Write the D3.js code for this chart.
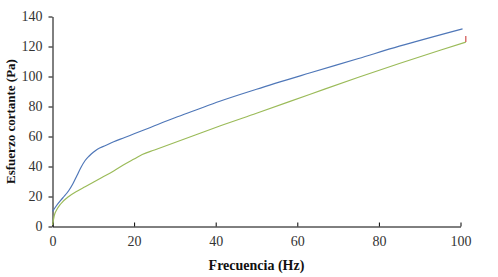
<!DOCTYPE html>
<html>
<head>
<meta charset="utf-8">
<script src="https://cdn.jsdelivr.net/npm/d3@7"></script>
<style>
  body { margin: 0; background: #fff; }
  #chart { width: 498px; height: 277px; }
</style>
</head>
<body>
<div id="chart"></div>
<script>
// Data
var blueX = [0, 1, 2.5, 4, 5, 6, 7, 8, 9, 10, 11, 13, 15, 17.7, 20, 23.2, 30, 35, 41, 50, 63, 75, 85, 100.5];
var blueY = [10, 14, 19, 24, 28.5, 34, 39.5, 44, 47, 49.5, 51.5, 54, 56.5, 59.3, 61.8, 65.2, 72.5, 77.5, 83.5, 91.5, 102.3, 112, 120.2, 131.8];

var greenX = [0, 0.5, 1, 2, 4, 6, 8, 10, 12, 15, 18, 20, 22, 25, 30, 35, 41, 50, 63, 75, 85, 95, 101.3];
var greenY = [1, 8, 11, 15, 20, 23.5, 26.5, 29.5, 32.5, 37, 42, 45, 48, 51, 56, 61, 67, 75.5, 88, 99.5, 108.7, 117.5, 122.9];

var redX = [101.3, 101.3];
var redY = [123, 127];

var xTicks = [0, 20, 40, 60, 80, 100];
var yTicks = [0, 20, 40, 60, 80, 100, 120, 140];

var width = 498, height = 277;
var serif = "'Liberation Serif', 'DejaVu Serif', serif";

var svg = d3.select("#chart").append("svg")
    .attr("width", width)
    .attr("height", height);

// Scales
var x = d3.scaleLinear().domain([0, 100]).range([52.5, 460.5]);
var y = d3.scaleLinear().domain([0, 140]).range([226.5, 16.5]);

function styleAxis(g) {
    g.attr("font-family", serif).attr("font-size", 14);
    g.selectAll("line, path").attr("stroke", "#000");
    g.selectAll("text").attr("fill", "#333");
}

// Axes
svg.append("g")
    .attr("transform", "translate(0," + y(0) + ")")
    .call(d3.axisBottom(x).tickValues(xTicks).tickSizeInner(-4).tickSizeOuter(0).tickPadding(10))
    .call(styleAxis);

svg.append("g")
    .attr("transform", "translate(" + x(0) + ",0)")
    .call(d3.axisLeft(y).tickValues(yTicks).tickSizeInner(4).tickSizeOuter(0).tickPadding(6))
    .call(styleAxis);

// Lines
var line = d3.line()
    .x(function(d) { return x(d[0]); })
    .y(function(d) { return y(d[1]); })
    .curve(d3.curveMonotoneX);

var straight = d3.line()
    .x(function(d) { return x(d[0]); })
    .y(function(d) { return y(d[1]); });

var series = [
    { xs: blueX, ys: blueY, color: "#4f77b8", gen: line },
    { xs: greenX, ys: greenY, color: "#9bbb59", gen: line },
    { xs: redX, ys: redY, color: "#d0504d", gen: straight }
];

series.forEach(function(s) {
    var pts = s.xs.map(function(v, i) { return [v, s.ys[i]]; });
    svg.append("path")
        .datum(pts)
        .attr("fill", "none")
        .attr("stroke", s.color)
        .attr("stroke-width", 1.2)
        .attr("d", s.gen);
});

// Titles
svg.append("text")
    .attr("x", x(50))
    .attr("y", 270)
    .attr("text-anchor", "middle")
    .attr("font-family", serif)
    .attr("font-weight", "bold")
    .attr("font-size", 14)
    .attr("fill", "#111")
    .text("Frecuencia (Hz)");

svg.append("text")
    .attr("transform", "translate(15," + y(70) + ") rotate(-90)")
    .attr("text-anchor", "middle")
    .attr("font-family", serif)
    .attr("font-weight", "bold")
    .attr("font-size", 13)
    .attr("fill", "#111")
    .text("Esfuerzo cortante (Pa)");
</script>
</body>
</html>
